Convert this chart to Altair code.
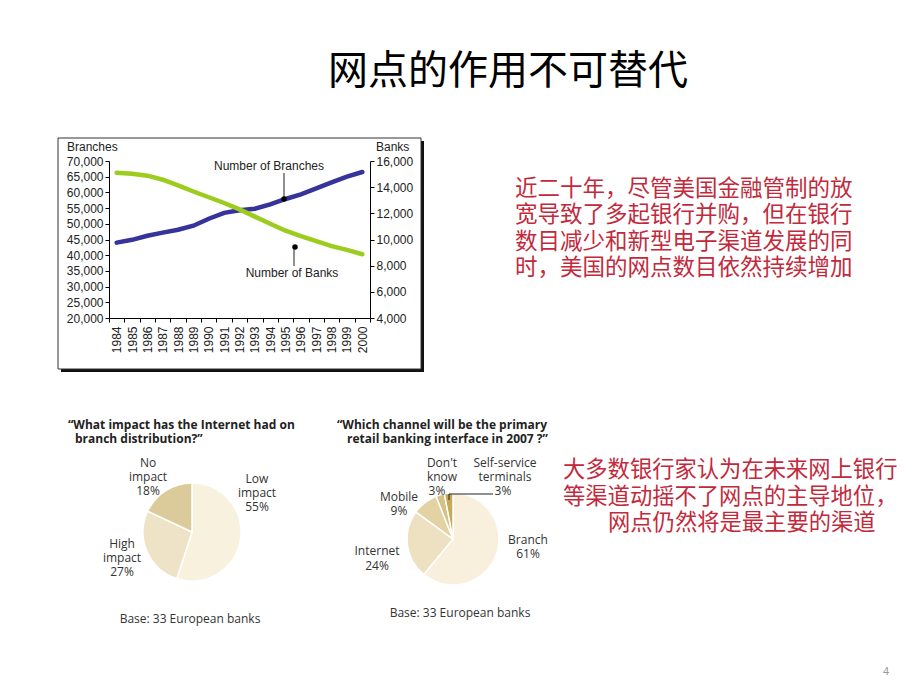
import altair as alt
import pandas as pd

# ---------------- data ----------------
years = ["1984", "1985", "1986", "1987", "1988", "1989", "1990", "1991", "1992",
         "1993", "1994", "1995", "1996", "1997", "1998", "1999", "2000"]
branches = [44000, 44900, 46200, 47200, 48100, 49400, 51600, 53500, 54300,
            54800, 56200, 57900, 59400, 61300, 63200, 65000, 66500]
banks = [15100, 15030, 14880, 14570, 14140, 13670, 13230, 12790, 12300,
         11750, 11200, 10670, 10250, 9870, 9490, 9210, 8870]
branch_ticks = [20000, 25000, 30000, 35000, 40000, 45000, 50000, 55000, 60000, 65000, 70000]
bank_ticks = [4000, 6000, 8000, 10000, 12000, 14000, 16000]

impact_cats = ["Low impact", "High impact", "No impact"]
impact_vals = [55, 27, 18]
impact_cols = ["#f8f1de", "#eee3c6", "#dccb9a"]

channel_cats = ["Branch", "Internet", "Mobile", "Don't know", "Self-service terminals"]
channel_vals = [61, 24, 9, 3, 3]
channel_cols = ["#f8f0dc", "#ede1c2", "#e2d2a4", "#d6c287", "#c6aa55"]

title_text = "网点的作用不可替代"
para1 = ["近二十年，尽管美国金融管制的放", "宽导致了多起银行并购，但在银行",
         "数目减少和新型电子渠道发展的同", "时，美国的网点数目依然持续增加"]
para2 = ["大多数银行家认为在未来网上银行", "等渠道动摇不了网点的主导地位，"]
para2_last = "网点仍然将是最主要的渠道"

CJK = "Noto Sans CJK SC"
LAT = "Open Sans"
ARI = "Liberation Sans"
RED = "#c22a3c"

line_df = pd.DataFrame({"year": years, "branches": branches, "banks": banks})


def txt(s, x, y, size, color="#222", align="left", baseline="middle",
        font=LAT, weight="normal", lh=None):
    m = dict(align=align, baseline=baseline, font=font, fontSize=size,
             color=color, fontWeight=weight)
    if "\n" in s:
        m.update(lineBreak="\n", lineHeight=lh)
    return alt.Chart(pd.DataFrame({"t": [s]})).mark_text(**m).encode(
        x=alt.value(x), y=alt.value(y), text="t:N")


one = pd.DataFrame({"k": [0]})

# frame with shadow
shadow = alt.Chart(one).mark_rect(fill="#111").encode(
    x=alt.value(61), x2=alt.value(424), y=alt.value(141), y2=alt.value(372))
frame = alt.Chart(one).mark_rect(fill="white", stroke="#333", strokeWidth=1).encode(
    x=alt.value(58), x2=alt.value(421), y=alt.value(138), y2=alt.value(369))

xscale = alt.Scale(type="band", domain=years, range=[109, 370],
                   paddingInner=0, paddingOuter=0)
axis_common = dict(grid=False, title=None, labelFont=ARI, labelFontSize=12,
                   labelColor="#222", domainColor="#000", tickColor="#000",
                   tickSize=4, zindex=1)
xaxis = alt.Axis(orient="bottom", offset=-372, labelAngle=-90,
                 tickBand="extent", labelPadding=4, **axis_common)

blue = alt.Chart(line_df).mark_line(color="#36339b", strokeWidth=4.5, strokeCap="round").encode(
    x=alt.X("year:O", bandPosition=0.5, scale=xscale, axis=xaxis),
    y=alt.Y("branches:Q",
            scale=alt.Scale(domain=[20000, 70000], range=[318, 161], nice=False, zero=False),
            axis=alt.Axis(orient="left", offset=-109, values=branch_ticks, format=",.0f",
                          labelPadding=2, **axis_common)),
)
green = alt.Chart(line_df).mark_line(color="#9bcc1e", strokeWidth=4.5, strokeCap="round").encode(
    x=alt.X("year:O", bandPosition=0.5, scale=xscale, axis=xaxis),
    y=alt.Y("banks:Q",
            scale=alt.Scale(domain=[4000, 16000], range=[318, 161], nice=False, zero=False),
            axis=alt.Axis(orient="right", offset=-550, values=bank_ticks, format=",.0f",
                          labelPadding=2, **axis_common)),
)

ptr1 = alt.Chart(one).mark_rule(color="#222", strokeWidth=1).encode(
    x=alt.value(284), y=alt.value(173), y2=alt.value(199))
dot1 = alt.Chart(one).mark_circle(color="#000", size=30, opacity=1).encode(
    x=alt.value(284), y=alt.value(199))
ptr2 = alt.Chart(one).mark_rule(color="#222", strokeWidth=1).encode(
    x=alt.value(294), y=alt.value(247), y2=alt.value(266))
dot2 = alt.Chart(one).mark_circle(color="#000", size=30, opacity=1).encode(
    x=alt.value(295), y=alt.value(247))

# pies
pie1_df = pd.DataFrame({"cat": impact_cats, "val": impact_vals, "ord": list(range(len(impact_cats)))})
pie1 = alt.Chart(pie1_df).mark_arc(radius=49, stroke="white", strokeWidth=1.5).encode(
    x=alt.value(192), y=alt.value(532),
    theta=alt.Theta("val:Q", stack=True),
    order=alt.Order("ord:Q"),
    color=alt.Color("cat:N", scale=alt.Scale(domain=impact_cats, range=impact_cols), legend=None),
)
pie2_df = pd.DataFrame({"cat": channel_cats, "val": channel_vals, "ord": list(range(len(channel_cats)))})
pie2 = alt.Chart(pie2_df).mark_arc(radius=46, stroke="white", strokeWidth=1.5).encode(
    x=alt.value(453), y=alt.value(539),
    theta=alt.Theta("val:Q", stack=True),
    order=alt.Order("ord:Q"),
    color=alt.Color("cat:N", scale=alt.Scale(domain=channel_cats, range=channel_cols), legend=None),
)
lead_h = alt.Chart(one).mark_rule(color="#222", strokeWidth=1).encode(
    x=alt.value(449), x2=alt.value(493), y=alt.value(494))
lead_v = alt.Chart(one).mark_rule(color="#222", strokeWidth=1).encode(
    x=alt.value(449), y=alt.value(494), y2=alt.value(500))

texts = [
    txt(title_text, 508, 72, 40, color="#000", align="center", font=CJK),
    txt("\n".join(para1), 515, 189, 22.5, color=RED, font=CJK, lh=26.3),
    txt("\n".join(para2), 563, 470, 22.3, color=RED, font=CJK, lh=26.5),
    txt(para2_last, 608, 523, 22.3, color=RED, font=CJK),
    txt("4", 886, 672, 11, color="#999", align="center", font=ARI),
    # line chart labels
    txt("Branches", 67, 147, 12, font=ARI),
    txt("Banks", 376, 147, 12, font=ARI),
    txt("Number of Branches", 269, 166, 12, align="center", font=ARI),
    txt("Number of Banks", 292, 273, 12, align="center", font=ARI),
    # pie 1
    txt("\u201cWhat impact has the Internet had on", 68, 425, 12, weight="bold"),
    txt("branch distribution?\u201d", 75, 439, 12, weight="bold"),
    txt("No\nimpact\n18%", 148, 463, 12, color="#333", align="center", lh=14),
    txt("Low\nimpact\n55%", 257, 479, 12, color="#333", align="center", lh=14),
    txt("High\nimpact\n27%", 122, 544, 12, color="#333", align="center", lh=14),
    txt("Base: 33 European banks", 190, 619, 12, color="#333", align="center"),
    # pie 2
    txt("\u201cWhich channel will be the primary", 337, 425, 12, weight="bold"),
    txt("retail banking interface in 2007 ?\u201d", 347, 439, 12, weight="bold"),
    txt("Don't\nknow", 442, 463, 12, color="#333", align="center", lh=14),
    txt("3%", 437, 491, 12, color="#333", align="center"),
    txt("Self-service\nterminals", 505, 463, 12, color="#333", align="center", lh=14),
    txt("3%", 503, 491, 12, color="#333", align="center"),
    txt("Mobile\n9%", 399, 497, 12, color="#333", align="center", lh=13.5),
    txt("Internet\n24%", 377, 551, 12, color="#333", align="center", lh=15),
    txt("Branch\n61%", 528, 540, 12, color="#333", align="center", lh=14),
    txt("Base: 33 European banks", 460, 613, 12, color="#333", align="center"),
]

chart = alt.layer(
    shadow, frame, blue, green, ptr1, dot1, ptr2, dot2,
    pie1, pie2, lead_h, lead_v, *texts
).resolve_scale(
    y="independent", theta="independent", color="independent"
).properties(
    width=920, height=690, padding=0, autosize="none", background="white"
).configure_view(stroke=None)

chart.save("out.html", embed_options={"renderer": "svg", "actions": False})
